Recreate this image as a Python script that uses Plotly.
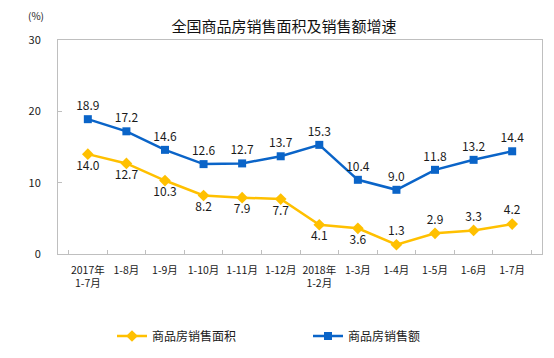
import plotly.graph_objects as go

categories = ["2017年<br>1-7月", "1-8月", "1-9月", "1-10月", "1-11月", "1-12月",
              "2018年<br>1-2月", "1-3月", "1-4月", "1-5月", "1-6月", "1-7月"]
area_growth = [14.0, 12.7, 10.3, 8.2, 7.9, 7.7, 4.1, 3.6, 1.3, 2.9, 3.3, 4.2]
sales_growth = [18.9, 17.2, 14.6, 12.6, 12.7, 13.7, 15.3, 10.4, 9.0, 11.8, 13.2, 14.4]
area_label_pos = ["bottom center"] * 8 + ["top center"] * 4
series_names = ["商品房销售面积", "商品房销售额"]
title_text = "全国商品房销售面积及销售额增速"
y_ticks = [0, 10, 20, 30]

FONT = "Noto Sans CJK SC, Liberation Sans, sans-serif"
YELLOW = "#FFC000"
BLUE = "#0A64C8"

# the page body has an 8px default margin; figure is sized to fill the rest
W, H, OFF = 546, 350, 8
PL, PR, PT, PB = 58, 542, 40, 254  # plot area in window pixels

fig = go.Figure()
fig.add_trace(go.Scatter(
    x=categories, y=area_growth, name=series_names[0],
    mode="lines+markers+text", cliponaxis=False,
    line=dict(color=YELLOW, width=2.5),
    marker=dict(symbol="diamond", size=9, color=YELLOW),
    text=[f"{v:.1f}" for v in area_growth], textposition=area_label_pos,
    textfont=dict(size=12, color="#1a1a1a", family=FONT),
))
fig.add_trace(go.Scatter(
    x=categories, y=sales_growth, name=series_names[1],
    mode="lines+markers+text", cliponaxis=False,
    line=dict(color=BLUE, width=2.5),
    marker=dict(symbol="square", size=8, color=BLUE),
    text=[f"{v:.1f}" for v in sales_growth], textposition="top center",
    textfont=dict(size=12, color="#1a1a1a", family=FONT),
))

ph = PB - PT
pw = PR - PL
fig.update_layout(
    width=W, height=H,
    margin=dict(l=PL - OFF, r=W + OFF - PR, t=PT - OFF, b=H + OFF - PB, autoexpand=False),
    paper_bgcolor="white", plot_bgcolor="white",
    font=dict(family=FONT, size=11, color="#1a1a1a"),
    title=dict(text=title_text, x=(284 - OFF) / W, xanchor="center",
               y=1 - (27 - OFF) / H, yanchor="middle",
               font=dict(size=15, family=FONT, color="#111")),
    showlegend=True,
    legend=dict(orientation="h", x=(112 - PL) / pw, xanchor="left",
                y=-(336 - PB) / ph, yanchor="middle",
                font=dict(size=12, family=FONT), itemwidth=30,
                entrywidth=151, entrywidthmode="pixels", bgcolor="rgba(0,0,0,0)"),
    xaxis=dict(showline=True, linecolor="#BFBFBF", linewidth=1, mirror=True,
               showgrid=False, ticks="inside", ticklen=4, tickcolor="#BFBFBF",
               tickson="boundaries", tickangle=0, automargin=False,
               ticklabelstandoff=6,
               tickfont=dict(size=10.5, family=FONT), fixedrange=True),
    yaxis=dict(range=[0, 30], tickvals=y_ticks, showline=True, linecolor="#BFBFBF",
               linewidth=1, mirror=True, showgrid=False, zeroline=False,
               ticks="inside", ticklen=4, tickcolor="#BFBFBF", automargin=False,
               tickfont=dict(size=11, family=FONT), ticklabelstandoff=14),
    annotations=[dict(text="(%)", x=(36 - PL) / pw, y=(PB - 16) / ph,
                      xref="paper", yref="paper", xanchor="center", yanchor="middle",
                      showarrow=False, font=dict(size=10, family=FONT))],
)

fig.write_html("out.html")
